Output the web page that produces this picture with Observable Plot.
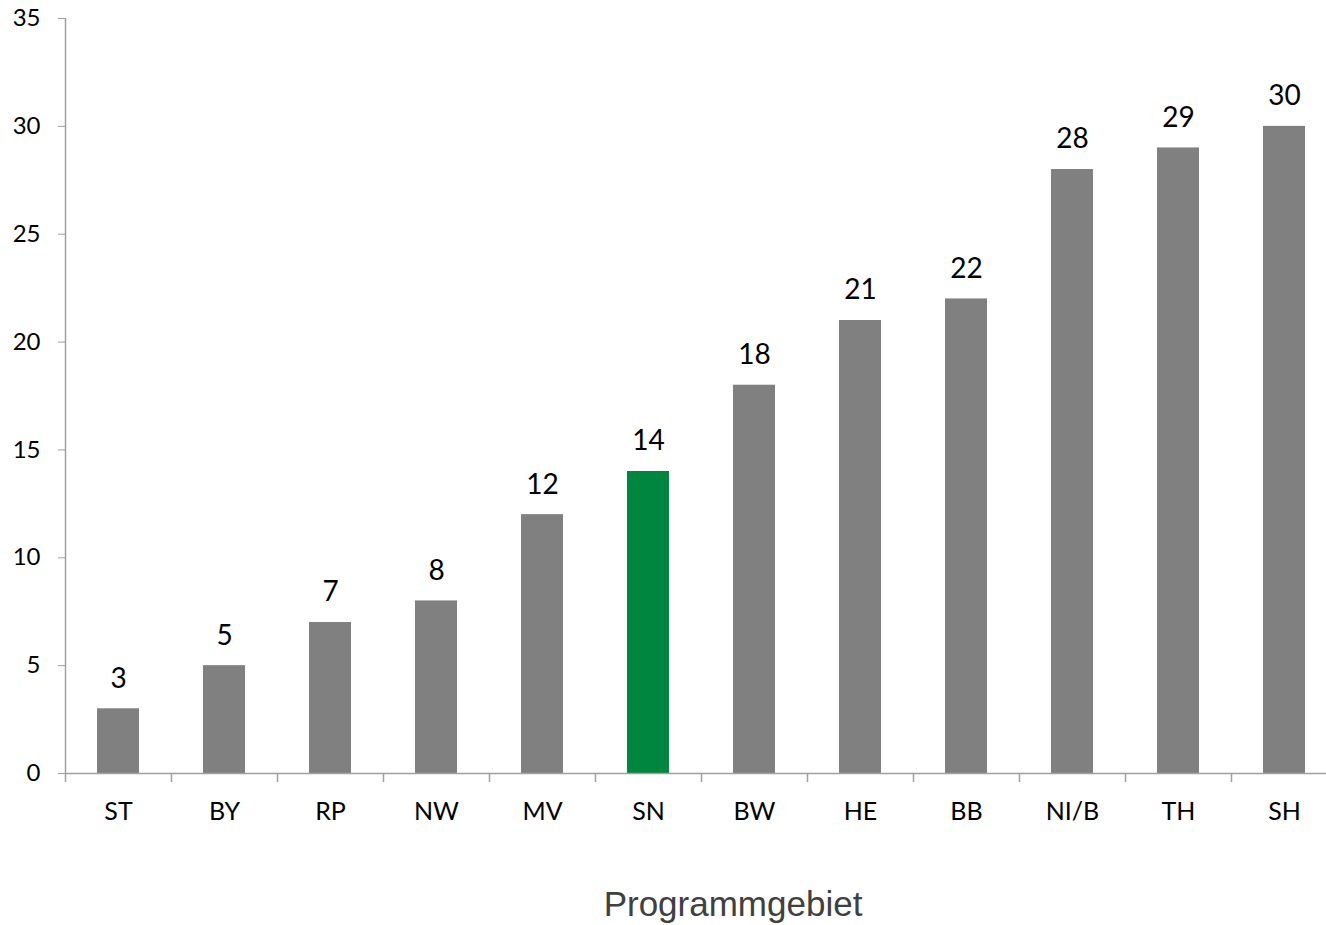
<!DOCTYPE html>
<html>
<head>
<meta charset="utf-8">
<script src="https://cdn.jsdelivr.net/npm/d3@7"></script>
<script src="https://cdn.jsdelivr.net/npm/@observablehq/plot@0.6"></script>
<style>
  html, body { margin: 0; padding: 0; background: #fff; }
</style>
</head>
<body>
<div id="chart"></div>
<script>
const categories = ["ST", "BY", "RP", "NW", "MV", "SN", "BW", "HE", "BB", "NI/B", "TH", "SH"];
const values = [3, 5, 7, 8, 12, 14, 18, 21, 22, 28, 29, 30];
const highlight = "SN";
const yTicks = [0, 5, 10, 15, 20, 25, 30, 35];
const xTitle = "Programmgebiet";

const data = categories.map((c, i) => ({cat: c, value: values[i]}));

const W = 1326, H = 925;
const mL = 65, mR = -11, mT = 18, mB = 152;
const step = (W - mL - mR) / categories.length;
const axisColor = "#a0a0a0";
const font = "Lato, 'Open Sans', sans-serif";

const chart = Plot.plot({
  width: W,
  height: H,
  marginLeft: mL,
  marginRight: 0,
  marginTop: mT,
  marginBottom: mB,
  style: {fontFamily: font, background: "#fff", color: "#000", overflow: "hidden"},
  x: {type: "band", domain: categories, range: [mL, W - mR], paddingInner: 0.6, paddingOuter: 0.3, align: 0.5},
  y: {domain: [0, 35]},
  marks: [
    Plot.barY(data, {x: "cat", y: "value", fill: d => d.cat === highlight ? "#00863F" : "#808080"}),
    Plot.text(data, {x: "cat", y: "value", text: d => String(d.value), dy: -30, fontSize: 28, fill: "#000", lineAnchor: "middle"}),
    // axis lines
    Plot.ruleY([0], {stroke: axisColor, strokeWidth: 1.5}),
    Plot.ruleX([categories[0]], {dx: -step / 2, y1: 0, y2: 35, stroke: axisColor, strokeWidth: 1.5}),
    // x tick marks at band boundaries
    Plot.ruleX(categories, {dx: step / 2, y1: 0, y2: -0.42, stroke: axisColor, strokeWidth: 1.5}),
    Plot.ruleX([categories[0]], {dx: -step / 2, y1: 0, y2: -0.42, stroke: axisColor, strokeWidth: 1.5}),
    Plot.axisY({ticks: yTicks, tickSize: 7, tickPadding: 18, stroke: axisColor, fontSize: 24, fill: "#000", label: null, tickFormat: d => String(d)}),
    Plot.axisX({tickSize: 0, tickPadding: 38, fontSize: 25, fill: "#000", label: null, lineAnchor: "middle"}),
    Plot.text([xTitle], {frameAnchor: "bottom", dx: 37, dy: 131, fontSize: 35, fill: "#404040", fontFamily: "'Liberation Sans', Arial, sans-serif", lineAnchor: "middle"})
  ]
});

document.getElementById("chart").appendChild(chart);
</script>
</body>
</html>
